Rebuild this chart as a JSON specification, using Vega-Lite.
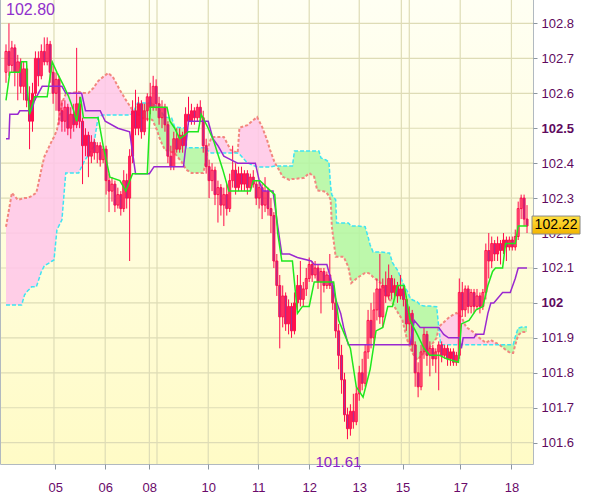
{
"$schema": "https://vega.github.io/schema/vega-lite/v6.json",
"width": 532, "height": 464,
"autosize": {"type": "none"},
"padding": {"left": 1, "top": 0, "right": 67, "bottom": 33},
"background": "white",
"config": {"view": {"stroke": "#98a2ac", "strokeWidth": 1.5}},
"resolve": {"axis": {"x": "independent", "y": "independent"}},
"datasets": {
"candles": [
{"t":0,"o":102.66,"h":102.74,"l":102.63,"c":102.72},{"t":1,"o":102.72,"h":102.80,"l":102.65,"c":102.68},{"t":2,"o":102.68,"h":102.75,"l":102.66,"c":102.73},{"t":3,"o":102.73,"h":102.74,"l":102.62,"c":102.66},{"t":4,"o":102.66,"h":102.71,"l":102.58,"c":102.69},{"t":5,"o":102.69,"h":102.70,"l":102.60,"c":102.62},{"t":6,"o":102.62,"h":102.69,"l":102.58,"c":102.67},{"t":7,"o":102.67,"h":102.68,"l":102.56,"c":102.58},{"t":8,"o":102.58,"h":102.62,"l":102.44,"c":102.52},{"t":9,"o":102.52,"h":102.63,"l":102.49,"c":102.60},
{"t":10,"o":102.60,"h":102.72,"l":102.58,"c":102.70},{"t":11,"o":102.70,"h":102.72,"l":102.62,"c":102.65},{"t":12,"o":102.65,"h":102.74,"l":102.64,"c":102.72},{"t":13,"o":102.72,"h":102.76,"l":102.68,"c":102.69},{"t":14,"o":102.69,"h":102.76,"l":102.68,"c":102.74},{"t":15,"o":102.74,"h":102.75,"l":102.63,"c":102.66},{"t":16,"o":102.66,"h":102.68,"l":102.57,"c":102.60},{"t":17,"o":102.60,"h":102.66,"l":102.55,"c":102.64},{"t":18,"o":102.64,"h":102.65,"l":102.51,"c":102.55},{"t":19,"o":102.55,"h":102.58,"l":102.49,"c":102.52},
{"t":20,"o":102.52,"h":102.58,"l":102.49,"c":102.56},{"t":21,"o":102.56,"h":102.57,"l":102.48,"c":102.50},{"t":22,"o":102.50,"h":102.56,"l":102.47,"c":102.54},{"t":23,"o":102.54,"h":102.57,"l":102.49,"c":102.51},{"t":24,"o":102.51,"h":102.73,"l":102.50,"c":102.57},{"t":25,"o":102.57,"h":102.59,"l":102.50,"c":102.52},{"t":26,"o":102.52,"h":102.53,"l":102.34,"c":102.45},{"t":27,"o":102.45,"h":102.50,"l":102.42,"c":102.48},{"t":28,"o":102.48,"h":102.49,"l":102.36,"c":102.42},{"t":29,"o":102.42,"h":102.48,"l":102.40,"c":102.46},
{"t":30,"o":102.46,"h":102.47,"l":102.41,"c":102.43},{"t":31,"o":102.43,"h":102.46,"l":102.40,"c":102.45},{"t":32,"o":102.45,"h":102.46,"l":102.39,"c":102.41},{"t":33,"o":102.41,"h":102.45,"l":102.40,"c":102.44},{"t":34,"o":102.44,"h":102.45,"l":102.31,"c":102.35},{"t":35,"o":102.35,"h":102.37,"l":102.26,"c":102.32},{"t":36,"o":102.32,"h":102.36,"l":102.29,"c":102.34},{"t":37,"o":102.34,"h":102.35,"l":102.26,"c":102.28},{"t":38,"o":102.28,"h":102.33,"l":102.27,"c":102.31},{"t":39,"o":102.31,"h":102.32,"l":102.25,"c":102.27},
{"t":40,"o":102.27,"h":102.38,"l":102.26,"c":102.35},{"t":41,"o":102.35,"h":102.37,"l":102.27,"c":102.30},{"t":42,"o":102.30,"h":102.44,"l":102.12,"c":102.42},{"t":43,"o":102.42,"h":102.58,"l":102.40,"c":102.55},{"t":44,"o":102.55,"h":102.61,"l":102.48,"c":102.50},{"t":45,"o":102.50,"h":102.59,"l":102.48,"c":102.57},{"t":46,"o":102.57,"h":102.58,"l":102.47,"c":102.49},{"t":47,"o":102.49,"h":102.57,"l":102.48,"c":102.55},{"t":48,"o":102.55,"h":102.60,"l":102.52,"c":102.59},{"t":49,"o":102.59,"h":102.63,"l":102.54,"c":102.56},
{"t":50,"o":102.56,"h":102.65,"l":102.55,"c":102.62},{"t":51,"o":102.62,"h":102.64,"l":102.55,"c":102.57},{"t":52,"o":102.57,"h":102.59,"l":102.51,"c":102.53},{"t":53,"o":102.53,"h":102.58,"l":102.50,"c":102.56},{"t":54,"o":102.56,"h":102.57,"l":102.49,"c":102.51},{"t":55,"o":102.51,"h":102.52,"l":102.40,"c":102.42},{"t":56,"o":102.42,"h":102.45,"l":102.38,"c":102.39},{"t":57,"o":102.39,"h":102.49,"l":102.38,"c":102.47},{"t":58,"o":102.47,"h":102.50,"l":102.43,"c":102.44},{"t":59,"o":102.44,"h":102.50,"l":102.43,"c":102.48},
{"t":60,"o":102.48,"h":102.49,"l":102.43,"c":102.45},{"t":61,"o":102.45,"h":102.56,"l":102.44,"c":102.54},{"t":62,"o":102.54,"h":102.59,"l":102.51,"c":102.52},{"t":63,"o":102.52,"h":102.57,"l":102.51,"c":102.55},{"t":64,"o":102.55,"h":102.56,"l":102.51,"c":102.53},{"t":65,"o":102.53,"h":102.57,"l":102.52,"c":102.56},{"t":66,"o":102.56,"h":102.58,"l":102.52,"c":102.53},{"t":67,"o":102.53,"h":102.55,"l":102.43,"c":102.45},{"t":68,"o":102.45,"h":102.47,"l":102.37,"c":102.39},{"t":69,"o":102.39,"h":102.41,"l":102.30,"c":102.35},
{"t":70,"o":102.35,"h":102.40,"l":102.32,"c":102.38},{"t":71,"o":102.38,"h":102.39,"l":102.28,"c":102.31},{"t":72,"o":102.31,"h":102.35,"l":102.23,"c":102.33},{"t":73,"o":102.33,"h":102.34,"l":102.25,"c":102.28},{"t":74,"o":102.28,"h":102.33,"l":102.22,"c":102.31},{"t":75,"o":102.31,"h":102.34,"l":102.25,"c":102.27},{"t":76,"o":102.27,"h":102.37,"l":102.26,"c":102.35},{"t":77,"o":102.35,"h":102.45,"l":102.33,"c":102.38},{"t":78,"o":102.38,"h":102.40,"l":102.31,"c":102.33},{"t":79,"o":102.33,"h":102.39,"l":102.32,"c":102.37},
{"t":80,"o":102.37,"h":102.39,"l":102.32,"c":102.34},{"t":81,"o":102.34,"h":102.38,"l":102.32,"c":102.37},{"t":82,"o":102.37,"h":102.38,"l":102.31,"c":102.33},{"t":83,"o":102.33,"h":102.37,"l":102.32,"c":102.36},{"t":84,"o":102.36,"h":102.38,"l":102.33,"c":102.34},{"t":85,"o":102.34,"h":102.35,"l":102.28,"c":102.30},{"t":86,"o":102.30,"h":102.35,"l":102.27,"c":102.33},{"t":87,"o":102.33,"h":102.34,"l":102.24,"c":102.28},{"t":88,"o":102.28,"h":102.36,"l":102.26,"c":102.32},{"t":89,"o":102.32,"h":102.33,"l":102.25,"c":102.27},
{"t":90,"o":102.27,"h":102.30,"l":102.20,"c":102.25},{"t":91,"o":102.25,"h":102.26,"l":102.10,"c":102.12},{"t":92,"o":102.12,"h":102.14,"l":102.02,"c":102.05},{"t":93,"o":102.05,"h":102.08,"l":101.87,"c":101.96},{"t":94,"o":101.96,"h":102.05,"l":101.93,"c":102.02},{"t":95,"o":102.02,"h":102.03,"l":101.92,"c":101.94},{"t":96,"o":101.94,"h":102.01,"l":101.91,"c":101.99},{"t":97,"o":101.99,"h":102.00,"l":101.90,"c":101.92},{"t":98,"o":101.92,"h":102.03,"l":101.91,"c":102.00},{"t":99,"o":102.00,"h":102.08,"l":101.98,"c":102.05},
{"t":100,"o":102.05,"h":102.12,"l":101.99,"c":102.01},{"t":101,"o":102.01,"h":102.06,"l":101.99,"c":102.04},{"t":102,"o":102.04,"h":102.10,"l":102.02,"c":102.07},{"t":103,"o":102.07,"h":102.13,"l":102.06,"c":102.11},{"t":104,"o":102.11,"h":102.12,"l":102.06,"c":102.08},{"t":105,"o":102.08,"h":102.12,"l":102.07,"c":102.10},{"t":106,"o":102.10,"h":102.11,"l":102.04,"c":102.06},{"t":107,"o":102.06,"h":102.10,"l":101.97,"c":102.09},{"t":108,"o":102.09,"h":102.10,"l":102.03,"c":102.05},{"t":109,"o":102.05,"h":102.09,"l":102.04,"c":102.08},
{"t":110,"o":102.08,"h":102.14,"l":102.04,"c":102.05},{"t":111,"o":102.05,"h":102.06,"l":101.98,"c":102.00},{"t":112,"o":102.00,"h":102.01,"l":101.90,"c":101.92},{"t":113,"o":101.92,"h":101.94,"l":101.81,"c":101.85},{"t":114,"o":101.85,"h":101.88,"l":101.74,"c":101.78},{"t":115,"o":101.78,"h":101.80,"l":101.66,"c":101.68},{"t":116,"o":101.68,"h":101.70,"l":101.61,"c":101.64},{"t":117,"o":101.64,"h":101.71,"l":101.62,"c":101.69},{"t":118,"o":101.69,"h":101.74,"l":101.64,"c":101.66},{"t":119,"o":101.66,"h":101.76,"l":101.65,"c":101.74},
{"t":120,"o":101.74,"h":101.82,"l":101.72,"c":101.80},{"t":121,"o":101.80,"h":101.84,"l":101.75,"c":101.77},{"t":122,"o":101.77,"h":101.88,"l":101.76,"c":101.86},{"t":123,"o":101.86,"h":101.98,"l":101.84,"c":101.95},{"t":124,"o":101.95,"h":102.00,"l":101.87,"c":101.90},{"t":125,"o":101.90,"h":102.03,"l":101.88,"c":101.98},{"t":126,"o":101.98,"h":102.07,"l":101.95,"c":102.04},{"t":127,"o":102.04,"h":102.14,"l":101.94,"c":101.96},{"t":128,"o":101.96,"h":102.07,"l":101.93,"c":102.05},{"t":129,"o":102.05,"h":102.09,"l":102.00,"c":102.02},
{"t":130,"o":102.02,"h":102.11,"l":102.01,"c":102.07},{"t":131,"o":102.07,"h":102.08,"l":102.01,"c":102.03},{"t":132,"o":102.03,"h":102.07,"l":102.01,"c":102.05},{"t":133,"o":102.05,"h":102.06,"l":102.00,"c":102.02},{"t":134,"o":102.02,"h":102.08,"l":102.01,"c":102.04},{"t":135,"o":102.04,"h":102.05,"l":101.99,"c":102.01},{"t":136,"o":102.01,"h":102.02,"l":101.92,"c":101.94},{"t":137,"o":101.94,"h":101.99,"l":101.88,"c":101.97},{"t":138,"o":101.97,"h":101.98,"l":101.86,"c":101.88},{"t":139,"o":101.88,"h":101.89,"l":101.76,"c":101.80},
{"t":140,"o":101.80,"h":101.83,"l":101.73,"c":101.76},{"t":141,"o":101.76,"h":101.88,"l":101.75,"c":101.86},{"t":142,"o":101.86,"h":101.93,"l":101.84,"c":101.91},{"t":143,"o":101.91,"h":101.92,"l":101.82,"c":101.85},{"t":144,"o":101.85,"h":101.89,"l":101.79,"c":101.87},{"t":145,"o":101.87,"h":101.88,"l":101.82,"c":101.84},{"t":146,"o":101.84,"h":101.87,"l":101.80,"c":101.86},{"t":147,"o":101.86,"h":101.89,"l":101.75,"c":101.88},{"t":148,"o":101.88,"h":101.89,"l":101.83,"c":101.85},{"t":149,"o":101.85,"h":101.88,"l":101.84,"c":101.87},
{"t":150,"o":101.87,"h":101.88,"l":101.82,"c":101.84},{"t":151,"o":101.84,"h":101.87,"l":101.82,"c":101.86},{"t":152,"o":101.86,"h":101.87,"l":101.82,"c":101.83},{"t":153,"o":101.83,"h":101.86,"l":101.82,"c":101.85},{"t":154,"o":101.85,"h":102.07,"l":101.84,"c":102.03},{"t":155,"o":102.03,"h":102.06,"l":101.96,"c":101.98},{"t":156,"o":101.98,"h":102.05,"l":101.96,"c":102.04},{"t":157,"o":102.04,"h":102.05,"l":101.97,"c":101.99},{"t":158,"o":101.99,"h":102.04,"l":101.97,"c":102.03},{"t":159,"o":102.03,"h":102.04,"l":101.97,"c":101.99},
{"t":160,"o":101.99,"h":102.04,"l":101.98,"c":102.02},{"t":161,"o":102.02,"h":102.03,"l":101.97,"c":101.99},{"t":162,"o":101.99,"h":102.04,"l":101.98,"c":102.03},{"t":163,"o":102.03,"h":102.17,"l":102.01,"c":102.15},{"t":164,"o":102.15,"h":102.20,"l":102.07,"c":102.12},{"t":165,"o":102.12,"h":102.19,"l":102.10,"c":102.17},{"t":166,"o":102.17,"h":102.18,"l":102.12,"c":102.14},{"t":167,"o":102.14,"h":102.19,"l":102.12,"c":102.17},{"t":168,"o":102.17,"h":102.18,"l":102.11,"c":102.15},{"t":169,"o":102.15,"h":102.20,"l":102.14,"c":102.18},
{"t":170,"o":102.18,"h":102.19,"l":102.12,"c":102.16},{"t":171,"o":102.16,"h":102.19,"l":102.15,"c":102.18},{"t":172,"o":102.18,"h":102.19,"l":102.15,"c":102.16},{"t":173,"o":102.16,"h":102.21,"l":102.15,"c":102.19},{"t":174,"o":102.19,"h":102.29,"l":102.18,"c":102.27},{"t":175,"o":102.27,"h":102.31,"l":102.24,"c":102.30},{"t":176,"o":102.30,"h":102.31,"l":102.22,"c":102.24},{"t":177,"o":102.24,"h":102.28,"l":102.20,"c":102.22}
],
"tenkan": [
{"t":0,"v":102.58},{"t":1.3,"v":102.66},{"t":4.7,"v":102.66},{"t":5.3,"v":102.69},{"t":7,"v":102.69},{"t":7.3,"v":102.61},{"t":8,"v":102.54},{"t":9.7,"v":102.59},{"t":14,"v":102.59},{"t":15.7,"v":102.69},{"t":17.3,"v":102.66},{"t":19.7,"v":102.62},{"t":21.3,"v":102.59},{"t":23,"v":102.55},{"t":24,"v":102.52},{"t":25.3,"v":102.59},{"t":26.3,"v":102.53},{"t":31.3,"v":102.53},{"t":33,"v":102.45},{"t":35.3,"v":102.36},{"t":38.7,"v":102.35},{"t":40.7,"v":102.32},{"t":43,"v":102.37},{"t":48,"v":102.37},{"t":49,"v":102.56},{"t":54.7,"v":102.56},{"t":55.7,"v":102.52},{"t":57.3,"v":102.50},{"t":59,"v":102.47},{"t":60.7,"v":102.48},{"t":62,"v":102.49},{"t":65.3,"v":102.49},{"t":66.3,"v":102.54},{"t":68.7,"v":102.50},{"t":70.7,"v":102.46},{"t":73.7,"v":102.38},{"t":75.7,"v":102.32},{"t":78,"v":102.32},{"t":83,"v":102.32},{"t":84,"v":102.35},{"t":86.3,"v":102.35},{"t":88.7,"v":102.33},{"t":91.3,"v":102.31},{"t":92.3,"v":102.20},{"t":93.7,"v":102.12},{"t":97.3,"v":102.12},{"t":99,"v":101.97},{"t":100.7,"v":101.99},{"t":103,"v":101.99},{"t":104.7,"v":102.06},{"t":108,"v":102.06},{"t":111.3,"v":102.06},{"t":113,"v":101.95},{"t":117,"v":101.87},{"t":119,"v":101.76},{"t":121.3,"v":101.73},{"t":123.7,"v":101.81},{"t":125.7,"v":101.92},{"t":128,"v":101.93},{"t":129.7,"v":101.99},{"t":131.3,"v":101.99},{"t":133,"v":102.05},{"t":135.3,"v":102.05},{"t":137.3,"v":101.95},{"t":139.7,"v":101.91},{"t":142,"v":101.87},{"t":144,"v":101.85},{"t":147.3,"v":101.85},{"t":149.7,"v":101.84},{"t":153.7,"v":101.83},{"t":154.7,"v":101.94},{"t":157.3,"v":101.95},{"t":159.7,"v":101.98},{"t":162,"v":101.99},{"t":163.7,"v":102.05},{"t":165.3,"v":102.09},{"t":166.3,"v":102.10},{"t":168.7,"v":102.10},{"t":169.7,"v":102.17},{"t":173,"v":102.17},{"t":174,"v":102.22},{"t":177,"v":102.22}
],
"kijun": [
{"t":0,"v":102.47},{"t":1,"v":102.47},{"t":1.3,"v":102.54},{"t":4,"v":102.54},{"t":4.7,"v":102.55},{"t":8.7,"v":102.55},{"t":9.7,"v":102.58},{"t":12.3,"v":102.62},{"t":19,"v":102.62},{"t":20.3,"v":102.60},{"t":25.7,"v":102.60},{"t":27,"v":102.55},{"t":32,"v":102.55},{"t":33.7,"v":102.52},{"t":38,"v":102.50},{"t":42,"v":102.49},{"t":43,"v":102.43},{"t":44,"v":102.37},{"t":48.7,"v":102.37},{"t":50.3,"v":102.39},{"t":60.3,"v":102.39},{"t":62,"v":102.52},{"t":68.7,"v":102.52},{"t":70.3,"v":102.47},{"t":72,"v":102.45},{"t":74,"v":102.42},{"t":76.3,"v":102.41},{"t":78.7,"v":102.40},{"t":84.7,"v":102.40},{"t":86.3,"v":102.34},{"t":87.3,"v":102.32},{"t":90.7,"v":102.32},{"t":92.3,"v":102.22},{"t":93.7,"v":102.14},{"t":96.3,"v":102.14},{"t":99,"v":102.13},{"t":103.7,"v":102.12},{"t":104.7,"v":102.11},{"t":109,"v":102.11},{"t":110.3,"v":102.07},{"t":112,"v":102.01},{"t":113.7,"v":101.97},{"t":114.7,"v":101.93},{"t":116.3,"v":101.88},{"t":137.3,"v":101.88},{"t":138.7,"v":101.95},{"t":140.7,"v":101.93},{"t":147,"v":101.93},{"t":148.7,"v":101.91},{"t":150.3,"v":101.90},{"t":154,"v":101.90},{"t":154.7,"v":101.87},{"t":155.3,"v":101.90},{"t":159,"v":101.90},{"t":159.7,"v":101.91},{"t":162.3,"v":101.91},{"t":163.7,"v":101.97},{"t":164.7,"v":102.00},{"t":165.7,"v":102.00},{"t":168.7,"v":102.03},{"t":171.3,"v":102.03},{"t":173,"v":102.07},{"t":174,"v":102.10},{"t":177,"v":102.10}
],
"cloud": [
{"t":0,"a":101.994,"b":102.218,"s":1,"k":"pink"},{"t":2,"a":101.994,"b":102.315,"s":1,"k":"pink"},{"t":4,"a":101.994,"b":102.295,"s":1,"k":"pink"},{"t":5.3,"a":101.994,"b":102.298,"s":1,"k":"pink"},{"t":6.3,"a":102.023,"b":102.300,"s":1,"k":"pink"},{"t":7.3,"a":102.034,"b":102.300,"s":1,"k":"pink"},{"t":8.7,"a":102.046,"b":102.306,"s":1,"k":"pink"},{"t":10.3,"a":102.046,"b":102.315,"s":1,"k":"pink"},{"t":12,"a":102.089,"b":102.381,"s":1,"k":"pink"},{"t":13,"a":102.106,"b":102.418,"s":1,"k":"pink"},{"t":15.7,"a":102.120,"b":102.466,"s":1,"k":"pink"},{"t":16.3,"a":102.123,"b":102.475,"s":1,"k":"pink"},{"t":17.3,"a":102.209,"b":102.495,"s":1,"k":"pink"},{"t":19,"a":102.238,"b":102.572,"s":1,"k":"pink"},{"t":20.3,"a":102.372,"b":102.598,"s":1,"k":"pink"},{"t":24.7,"a":102.372,"b":102.604,"s":1,"k":"pink"},{"t":26.3,"a":102.401,"b":102.601,"s":1,"k":"pink"},{"t":28,"a":102.424,"b":102.601,"s":1,"k":"pink"},{"t":29.7,"a":102.446,"b":102.615,"s":1,"k":"pink"},{"t":31.3,"a":102.532,"b":102.635,"s":1,"k":"pink"},{"t":33,"a":102.538,"b":102.647,"s":1,"k":"pink"},{"t":34.7,"a":102.538,"b":102.658,"s":1,"k":"pink"},{"t":36.3,"a":102.538,"b":102.647,"s":1,"k":"pink"},{"t":38.7,"a":102.538,"b":102.609,"s":1,"k":"pink"},{"t":40.7,"a":102.538,"b":102.581,"s":1,"k":"pink"},{"t":42.3,"a":102.538,"b":102.561,"s":1,"k":"pink"},{"t":43.3,"a":102.547,"b":102.547,"s":1,"k":"pink"},
{"t":43.3,"a":102.547,"b":102.547,"s":2,"k":"green"},{"t":44.7,"a":102.572,"b":102.541,"s":2,"k":"green"},{"t":46.3,"a":102.572,"b":102.529,"s":2,"k":"green"},{"t":49.7,"a":102.572,"b":102.524,"s":2,"k":"green"},{"t":51.3,"a":102.561,"b":102.495,"s":2,"k":"green"},{"t":52,"a":102.555,"b":102.475,"s":2,"k":"green"},{"t":53,"a":102.544,"b":102.455,"s":2,"k":"green"},{"t":54,"a":102.532,"b":102.438,"s":2,"k":"green"},{"t":56.3,"a":102.529,"b":102.432,"s":2,"k":"green"},{"t":57.3,"a":102.504,"b":102.429,"s":2,"k":"green"},{"t":59.7,"a":102.501,"b":102.403,"s":2,"k":"green"},{"t":60.7,"a":102.501,"b":102.389,"s":2,"k":"green"},{"t":61.3,"a":102.444,"b":102.381,"s":2,"k":"green"},{"t":63,"a":102.444,"b":102.372,"s":2,"k":"green"},{"t":67,"a":102.444,"b":102.372,"s":2,"k":"green"},{"t":68,"a":102.444,"b":102.409,"s":2,"k":"green"},{"t":68.3,"a":102.438,"b":102.438,"s":2,"k":"green"},
{"t":68.3,"a":102.438,"b":102.438,"s":3,"k":"pink"},{"t":69.7,"a":102.429,"b":102.472,"s":3,"k":"pink"},{"t":70.7,"a":102.429,"b":102.475,"s":3,"k":"pink"},{"t":74,"a":102.429,"b":102.475,"s":3,"k":"pink"},{"t":76.3,"a":102.429,"b":102.438,"s":3,"k":"pink"},{"t":78.7,"a":102.429,"b":102.429,"s":3,"k":"pink"},{"t":79.3,"a":102.426,"b":102.501,"s":3,"k":"pink"},{"t":82,"a":102.401,"b":102.509,"s":3,"k":"pink"},{"t":85.3,"a":102.389,"b":102.532,"s":3,"k":"pink"},{"t":87,"a":102.389,"b":102.504,"s":3,"k":"pink"},{"t":88.7,"a":102.389,"b":102.466,"s":3,"k":"pink"},{"t":89.7,"a":102.389,"b":102.438,"s":3,"k":"pink"},{"t":91.3,"a":102.392,"b":102.401,"s":3,"k":"pink"},{"t":92,"a":102.392,"b":102.392,"s":3,"k":"pink"},
{"t":92,"a":102.392,"b":102.392,"s":4,"k":"green"},{"t":94,"a":102.392,"b":102.361,"s":4,"k":"green"},{"t":96.3,"a":102.392,"b":102.352,"s":4,"k":"green"},{"t":97.3,"a":102.392,"b":102.355,"s":4,"k":"green"},{"t":98,"a":102.435,"b":102.355,"s":4,"k":"green"},{"t":101.3,"a":102.435,"b":102.358,"s":4,"k":"green"},{"t":103,"a":102.435,"b":102.372,"s":4,"k":"green"},{"t":104.7,"a":102.435,"b":102.361,"s":4,"k":"green"},{"t":105.7,"a":102.435,"b":102.323,"s":4,"k":"green"},{"t":106.3,"a":102.435,"b":102.321,"s":4,"k":"green"},{"t":107,"a":102.415,"b":102.321,"s":4,"k":"green"},{"t":108.7,"a":102.409,"b":102.318,"s":4,"k":"green"},{"t":109.7,"a":102.403,"b":102.306,"s":4,"k":"green"},{"t":110.3,"a":102.332,"b":102.295,"s":4,"k":"green"},{"t":110.7,"a":102.309,"b":102.218,"s":4,"k":"green"},{"t":112,"a":102.295,"b":102.132,"s":4,"k":"green"},{"t":112.3,"a":102.229,"b":102.132,"s":4,"k":"green"},{"t":114.7,"a":102.229,"b":102.132,"s":4,"k":"green"},{"t":116.3,"a":102.229,"b":102.103,"s":4,"k":"green"},{"t":117.3,"a":102.220,"b":102.057,"s":4,"k":"green"},{"t":119.7,"a":102.220,"b":102.074,"s":4,"k":"green"},{"t":122,"a":102.218,"b":102.086,"s":4,"k":"green"},{"t":123,"a":102.189,"b":102.086,"s":4,"k":"green"},{"t":123.7,"a":102.166,"b":102.083,"s":4,"k":"green"},{"t":124.7,"a":102.146,"b":102.074,"s":4,"k":"green"},{"t":127.3,"a":102.146,"b":102.057,"s":4,"k":"green"},{"t":129.7,"a":102.143,"b":102.017,"s":4,"k":"green"},{"t":130.3,"a":102.143,"b":102.009,"s":4,"k":"green"},{"t":131.3,"a":102.115,"b":102.000,"s":4,"k":"green"},{"t":132,"a":102.106,"b":101.989,"s":4,"k":"green"},{"t":133,"a":102.094,"b":101.974,"s":4,"k":"green"},{"t":134.7,"a":102.060,"b":101.951,"s":4,"k":"green"},{"t":135.3,"a":102.049,"b":101.928,"s":4,"k":"green"},{"t":136.3,"a":102.034,"b":101.894,"s":4,"k":"green"},{"t":137.3,"a":102.014,"b":101.874,"s":4,"k":"green"},{"t":138,"a":102.009,"b":101.857,"s":4,"k":"green"},{"t":139.7,"a":102.003,"b":101.837,"s":4,"k":"green"},{"t":140.7,"a":101.994,"b":101.846,"s":4,"k":"green"},{"t":142,"a":101.991,"b":101.857,"s":4,"k":"green"},{"t":144,"a":101.991,"b":101.874,"s":4,"k":"green"},{"t":146.3,"a":101.989,"b":101.900,"s":4,"k":"green"},{"t":147,"a":101.931,"b":101.931,"s":4,"k":"green"},
{"t":147,"a":101.931,"b":101.931,"s":5,"k":"pink"},{"t":147.7,"a":101.880,"b":101.937,"s":5,"k":"pink"},{"t":150.7,"a":101.880,"b":101.960,"s":5,"k":"pink"},{"t":153,"a":101.880,"b":101.971,"s":5,"k":"pink"},{"t":154.7,"a":101.880,"b":101.960,"s":5,"k":"pink"},{"t":156.3,"a":101.880,"b":101.931,"s":5,"k":"pink"},{"t":158.7,"a":101.880,"b":101.917,"s":5,"k":"pink"},{"t":160.3,"a":101.880,"b":101.903,"s":5,"k":"pink"},{"t":163,"a":101.880,"b":101.886,"s":5,"k":"pink"},{"t":164.7,"a":101.880,"b":101.894,"s":5,"k":"pink"},{"t":166.3,"a":101.880,"b":101.886,"s":5,"k":"pink"},{"t":167.7,"a":101.880,"b":101.880,"s":5,"k":"pink"},
{"t":167.7,"a":101.880,"b":101.880,"s":6,"k":"green"},{"t":169.7,"a":101.880,"b":101.866,"s":6,"k":"green"},{"t":171.3,"a":101.880,"b":101.857,"s":6,"k":"green"},{"t":172.3,"a":101.880,"b":101.857,"s":6,"k":"green"},{"t":173,"a":101.903,"b":101.880,"s":6,"k":"green"},{"t":174,"a":101.928,"b":101.908,"s":6,"k":"green"},{"t":175.3,"a":101.931,"b":101.917,"s":6,"k":"green"},{"t":177,"a":101.931,"b":101.917,"s":6,"k":"green"}
],
"vgrid": [{"g":16.3},{"g":33.7},{"g":48.7},{"g":51.3},{"g":68.7},{"g":85.7},{"g":103},{"g":120},{"g":134.3},{"g":137},{"g":154.3},{"g":171.7}],
"hgrid": [{"g":101.6},{"g":101.7},{"g":101.8},{"g":101.9},{"g":102.0},{"g":102.1},{"g":102.2},{"g":102.3},{"g":102.4},{"g":102.5},{"g":102.6},{"g":102.7},{"g":102.8}]
},
"layer": [
{"data": {"values": [{}]},
 "mark": {"type": "rect", "color": {"gradient": "linear", "x1": 0, "y1": 0, "x2": 0, "y2": 1, "stops": [{"offset": 0, "color": "#fffff3"}, {"offset": 1, "color": "#fffbc6"}]}}},
{"data": {"name": "vgrid"},
 "mark": {"type": "rule", "color": "#dedcb6", "strokeWidth": 1.2},
 "encoding": {"x": {"field": "g", "type": "quantitative", "scale": {"domain": [0, 177.33], "nice": false, "zero": false}, "axis": null}}},
{"data": {"name": "hgrid"},
 "mark": {"type": "rule", "color": "#dedcb6", "strokeWidth": 1.2},
 "encoding": {"y": {"field": "g", "type": "quantitative", "scale": {"domain": [101.539, 102.867], "nice": false, "zero": false}, "axis": null}}},
{"data": {"name": "cloud"},
 "mark": {"type": "area", "opacity": 0.85},
 "encoding": {
  "x": {"field": "t", "type": "quantitative", "scale": {"domain": [0, 177.33], "nice": false, "zero": false}, "axis": null},
  "y": {"field": "a", "type": "quantitative", "scale": {"domain": [101.539, 102.867], "nice": false, "zero": false}, "axis": null},
  "y2": {"field": "b"},
  "detail": {"field": "s", "type": "nominal"},
  "color": {"field": "k", "type": "nominal", "scale": {"domain": ["pink", "green"], "range": ["#ffc6ea", "#b2f7a2"]}, "legend": null}}},
{"data": {"name": "cloud"},
 "mark": {"type": "line", "color": "#f2877e", "strokeWidth": 2, "strokeDash": [3, 2]},
 "encoding": {
  "x": {"field": "t", "type": "quantitative", "axis": null},
  "y": {"field": "b", "type": "quantitative", "axis": null}}},
{"data": {"name": "cloud"},
 "mark": {"type": "line", "color": "#3ee4f2", "strokeWidth": 1.5, "strokeDash": [4, 2]},
 "encoding": {
  "x": {"field": "t", "type": "quantitative", "axis": null},
  "y": {"field": "a", "type": "quantitative", "axis": null}}},
{"data": {"name": "candles"},
 "mark": {"type": "rule", "color": "#ff0a4a", "strokeWidth": 1},
 "encoding": {
  "x": {"field": "t", "type": "quantitative", "axis": null},
  "y": {"field": "l", "type": "quantitative", "axis": null},
  "y2": {"field": "h"}}},
{"data": {"name": "candles"},
 "mark": {"type": "bar", "width": 2, "stroke": "#ff0a4a", "strokeWidth": 1},
 "encoding": {
  "x": {"field": "t", "type": "quantitative",
        "axis": {"title": null, "values": [16.7, 33.7, 48.7, 68.7, 85.7, 103, 120, 134.7, 154.3, 171.7],
                 "labelExpr": "['05','06','08','10','11','12','13','15','17','18'][indexof([16.7,33.7,48.7,68.7,85.7,103,120,134.7,154.3,171.7], datum.value)]",
                 "grid": false, "domain": false, "tickColor": "#8c96a0", "tickSize": 5, "labelPadding": 12,
                 "labelFont": "Liberation Sans", "labelFontSize": 13, "labelColor": "#6a0a6a", "labelOverlap": false, "labelFlush": false}},
  "y": {"field": "o", "type": "quantitative",
        "axis": {"orient": "right", "title": null, "values": [101.6, 101.7, 101.8, 101.9, 102, 102.1, 102.2, 102.3, 102.4, 102.5, 102.6, 102.7, 102.8],
                 "labelExpr": "datum.value == 102 ? '102' : format(datum.value, '.1f')",
                 "labelFontWeight": {"condition": {"test": "datum.value == 102 || datum.value == 102.5", "value": "bold"}, "value": "normal"},
                 "grid": false, "domain": false, "tickColor": "#8c96a0", "tickSize": 4, "labelPadding": 4,
                 "labelFont": "Liberation Sans", "labelFontSize": 13, "labelColor": "#5e0a5e", "labelOverlap": false, "labelFlush": false, "labelBound": false}},
  "y2": {"field": "c"},
  "fill": {"condition": {"test": "datum.c < datum.o", "value": "#a3349a"}, "value": "transparent"}}},
{"data": {"name": "kijun"},
 "mark": {"type": "line", "color": "#9a28d0", "strokeWidth": 1.5},
 "encoding": {
  "x": {"field": "t", "type": "quantitative", "axis": null},
  "y": {"field": "v", "type": "quantitative", "axis": null}}},
{"data": {"name": "tenkan"},
 "mark": {"type": "line", "color": "#1ee81e", "strokeWidth": 1.5},
 "encoding": {
  "x": {"field": "t", "type": "quantitative", "axis": null},
  "y": {"field": "v", "type": "quantitative", "axis": null}}},
{"data": {"values": [{"t": 0, "p": 102.80, "txt": "102.80"}]},
 "mark": {"type": "text", "align": "left", "baseline": "middle", "dx": 0, "dy": -13, "font": "Liberation Sans", "fontSize": 16, "color": "#9030cc"},
 "encoding": {
  "x": {"field": "t", "type": "quantitative", "axis": null},
  "y": {"field": "p", "type": "quantitative", "axis": null},
  "text": {"field": "txt"}}},
{"data": {"values": [{"t": 116, "p": 101.61, "txt": "101.61"}]},
 "mark": {"type": "text", "align": "center", "baseline": "middle", "dx": -9, "dy": 23, "font": "Liberation Sans", "fontSize": 15, "color": "#8a22c8"},
 "encoding": {
  "x": {"field": "t", "type": "quantitative", "axis": null},
  "y": {"field": "p", "type": "quantitative", "axis": null},
  "text": {"field": "txt"}}},
{"data": {"values": [{"t": 177, "p": 102.22, "txt": "102.22"}]},
 "mark": {"type": "rect", "xOffset": 5, "x2Offset": 53, "yOffset": -10, "y2Offset": 8, "stroke": "#8a8a8a", "strokeWidth": 1,
          "fill": {"gradient": "linear", "x1": 0, "y1": 0, "x2": 0, "y2": 1, "stops": [{"offset": 0, "color": "#ffe040"}, {"offset": 1, "color": "#f2b400"}]}},
 "encoding": {
  "x": {"field": "t", "type": "quantitative", "axis": null},
  "x2": {"field": "t"},
  "y": {"field": "p", "type": "quantitative", "axis": null},
  "y2": {"field": "p"}}},
{"data": {"values": [{"t": 177, "p": 102.22, "txt": "102.22"}]},
 "mark": {"type": "text", "align": "center", "baseline": "middle", "dx": 29, "dy": -1, "font": "Liberation Sans", "fontSize": 14, "color": "#000000"},
 "encoding": {
  "x": {"field": "t", "type": "quantitative", "axis": null},
  "y": {"field": "p", "type": "quantitative", "axis": null},
  "text": {"field": "txt"}}}
]
}
